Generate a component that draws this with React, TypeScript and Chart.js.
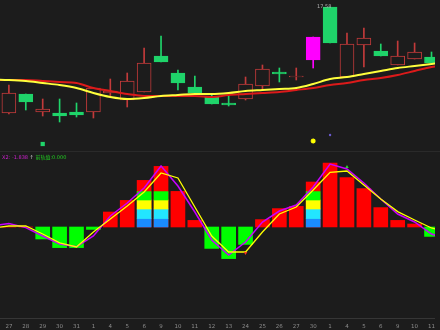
import React, { useEffect, useRef } from "react";
import { Chart, registerables } from "chart.js";
Chart.register(...registerables);

const dates = ["27","28","29","30","31","1","4","5","6","9","10","11","12","13","24","25","26","27","30","1","4","5","6","9","10","11"];
const opens  = [16.52,16.71,16.53,16.52,16.53,16.53,16.72,16.65,16.73,17.09,16.92,16.78,16.68,16.62,16.66,16.79,16.93,16.88,17.05,17.58,16.88,17.20,17.14,17.00,17.06,17.08];
const highs  = [16.80,16.71,16.66,16.66,16.62,16.77,16.86,16.92,17.17,17.29,16.95,16.89,16.70,16.70,16.88,17.00,16.97,16.97,17.28,17.58,17.32,17.37,17.21,17.24,17.22,17.13];
const lows   = [16.51,16.55,16.49,16.43,16.48,16.47,16.68,16.58,16.73,17.03,16.75,16.72,16.61,16.59,16.65,16.75,16.83,16.85,16.97,17.22,16.88,16.98,17.09,17.00,17.06,17.02];
const closes = [16.72,16.63,16.56,16.49,16.50,16.77,16.74,16.84,17.02,17.03,16.82,16.72,16.61,16.60,16.81,16.96,16.91,16.89,17.28,17.22,17.21,17.27,17.09,17.09,17.13,17.02];
const specialCandles = [18];
const maShort = [16.85,16.84,16.82,16.80,16.77,16.72,16.68,16.66,16.67,16.69,16.70,16.71,16.71,16.72,16.74,16.75,16.76,16.77,16.81,16.86,16.88,16.91,16.94,16.97,16.99,17.01];
const maLong  = [16.85,16.85,16.84,16.83,16.82,16.77,16.74,16.71,16.69,16.69,16.69,16.69,16.68,16.70,16.71,16.72,16.73,16.75,16.77,16.80,16.82,16.85,16.87,16.90,16.94,16.98];
// values just outside the visible window (previous day, next day)
const maShortEdge = [16.855, 17.03];
const maLongEdge  = [16.85, 17.00];

const histValues = [0,0,-0.60,-1.03,-1.03,-0.12,0.75,1.33,2.33,3.03,1.78,0.33,-1.07,-1.58,-0.87,0.37,0.92,1.03,2.25,3.20,2.47,1.92,0.97,0.33,0.15,-0.47];
const bandIndices = [8, 9, 18];
const bandLevels = [0, 0.42, 0.90, 1.35, 1.77];
const bandColors = ["#1a8cff", "#22e6ff", "#ffff00", "#00ff00"];
const lineMagenta = [0.18,-0.03,-0.45,-0.85,-0.99,-0.45,0.55,1.20,1.95,3.05,2.05,0.75,-0.65,-1.40,-0.75,0.25,0.80,1.10,2.00,3.15,2.90,2.20,1.40,0.65,0.25,-0.35];
const lineYellow  = [0.05,0.05,-0.35,-0.79,-1.00,-0.25,0.40,1.05,1.75,2.70,2.45,1.00,-0.45,-1.25,-1.25,-0.25,0.65,1.00,1.85,2.73,2.80,2.10,1.40,0.77,0.35,-0.05];
const lineMagentaEdge = [0.05, -0.62];
const lineYellowEdge  = [-0.05, -0.25];

const signalGreen = { x: 2, y: 16.21 };
const signalYellow = { x: 18, y: 16.24 };
const signalPurple = { x: 19, y: 16.30 };
const markRed = { x: 14, y: -1.3 };
const markGreen = { x: 20, y: 3.0 };

const highLabel = "17.58";
const indName = "X2: -1.838";
const indExtra = "前轨值:0.000";

const BG = "#1c1c1c";
const UP = "#c23a3a";
const DOWN = "#1fd46a";
const SPECIAL = "#ff00ff";

export default function App() {
  const ref = useRef<HTMLCanvasElement | null>(null);
  useEffect(() => {
    if (!ref.current) return;
    const idx = dates.map((_, i) => i);
    const n = dates.length;
    const withEdges = (vals: number[], edge: number[]) => [
      { x: -1, y: edge[0] },
      ...idx.map((i) => ({ x: i, y: vals[i] })),
      { x: n, y: edge[1] },
    ];
    const candleColor = (i: number) =>
      specialCandles.includes(i) ? SPECIAL : closes[i] >= opens[i] ? UP : DOWN;
    const bodyFill = (i: number) =>
      specialCandles.includes(i) ? SPECIAL : closes[i] >= opens[i] ? BG : DOWN;

    const datasets: any[] = [
      {
        type: "bar", order: 20, yAxisID: "yP", grouped: false, barThickness: 1,
        data: idx.map((i) => ({ x: i, y: [lows[i], highs[i]] })),
        backgroundColor: idx.map(candleColor), borderWidth: 0,
      },
      {
        type: "bar", order: 19, yAxisID: "yP", grouped: false, barThickness: 14,
        data: idx.map((i) => ({ x: i, y: [opens[i], closes[i]] })),
        backgroundColor: idx.map(bodyFill), borderColor: idx.map(candleColor),
        borderWidth: 1, borderSkipped: false,
      },
      {
        type: "line", order: 18, yAxisID: "yP",
        data: withEdges(maLong, maLongEdge),
        borderColor: "#dc1a1a", borderWidth: 2, pointRadius: 0, pointHoverRadius: 0, cubicInterpolationMode: "monotone",
      },
      {
        type: "line", order: 17, yAxisID: "yP",
        data: withEdges(maShort, maShortEdge),
        borderColor: "#ffff3c", borderWidth: 2, pointRadius: 0, pointHoverRadius: 0, cubicInterpolationMode: "monotone",
      },
      {
        type: "bar", order: 16, yAxisID: "yI", grouped: false, barThickness: 14,
        data: idx.map((i) => ({ x: i, y: [0, histValues[i]] })),
        backgroundColor: idx.map((i) => (histValues[i] >= 0 ? "#ff0000" : "#00ff00")),
        borderWidth: 0,
      },
    ];
    bandColors.forEach((c, k) => {
      datasets.push({
        type: "bar", order: 15 - k * 0.1, yAxisID: "yI", grouped: false, barThickness: 14,
        data: bandIndices.map((i) => ({ x: i, y: [bandLevels[k], bandLevels[k + 1]] })),
        backgroundColor: c, borderWidth: 0,
      });
    });
    datasets.push(
      {
        type: "line", order: 12, yAxisID: "yI",
        data: withEdges(lineMagenta, lineMagentaEdge),
        borderColor: "#c800ff", borderWidth: 1.5, pointRadius: 0, pointHoverRadius: 0,
      },
      {
        type: "line", order: 11, yAxisID: "yI",
        data: withEdges(lineYellow, lineYellowEdge),
        borderColor: "#ffff00", borderWidth: 1.3, pointRadius: 0, pointHoverRadius: 0,
      },
      {
        type: "line", order: 5, yAxisID: "yP", showLine: false,
        data: [signalGreen], pointStyle: "rect", pointRadius: 3, pointHoverRadius: 0,
        backgroundColor: DOWN, borderColor: DOWN, borderWidth: 0,
      },
      {
        type: "line", order: 5, yAxisID: "yP", showLine: false,
        data: [signalYellow], pointStyle: "star", pointRadius: 2.5, pointHoverRadius: 0,
        backgroundColor: "#ffff00", borderColor: "#ffff00", borderWidth: 1.5,
      },
      {
        type: "line", order: 5, yAxisID: "yP", showLine: false,
        data: [signalPurple], pointRadius: 1.2, pointHoverRadius: 0,
        backgroundColor: "#6a5acd", borderColor: "#6a5acd", borderWidth: 0,
      },
      {
        type: "line", order: 5, yAxisID: "yI", showLine: false,
        data: [markRed], pointStyle: "triangle", rotation: 180, pointRadius: 2, pointHoverRadius: 0,
        backgroundColor: "#ff3b1f", borderColor: "#ff3b1f", borderWidth: 0,
      },
      {
        type: "line", order: 5, yAxisID: "yI", showLine: false,
        data: [markGreen], pointStyle: "triangle", pointRadius: 2, pointHoverRadius: 0,
        backgroundColor: "#2fd42f", borderColor: "#2fd42f", borderWidth: 0,
      }
    );

    const chart = new Chart(ref.current, {
      type: "bar",
      data: { datasets },
      options: {
        animation: false,
        responsive: false,
        devicePixelRatio: 1,
        layout: { padding: 0, autoPadding: false },
        plugins: { legend: { display: false }, tooltip: { enabled: false } },
        scales: {
          x: {
            type: "linear", min: -0.526, max: 25.2, offset: false,
            grid: { display: false, drawTicks: false },
            border: { display: true, color: "#363636" },
            afterBuildTicks: (s: any) => { s.ticks = idx.map((i) => ({ value: i })); },
            afterFit: (s: any) => { s.height = 12; },
            ticks: {
              autoSkip: false, maxRotation: 0, padding: 5, color: "#8c8c8c",
              font: { size: 5.5, family: "DejaVu Sans" },
              callback: (v: any) => dates[Math.round(Number(v))] ?? "",
            },
          },
          yP: { type: "linear", display: false, min: 14.47, max: 17.65 },
          yI: { type: "linear", display: false, min: -4.55, max: 11.35 },
        },
      } as any,
    });
    return () => chart.destroy();
  }, []);

  return (
    <div style={{ position: "fixed", left: 0, top: 0, width: 440, height: 330, background: BG, overflow: "hidden" }}>
      <canvas ref={ref} width={440} height={330} style={{ position: "absolute", left: 0, top: 0, width: 440, height: 330 }} />
      <div style={{ position: "absolute", left: 0, top: 151, width: 440, height: 1, background: "#2a2a2a" }} />
      <span style={{ position: "absolute", left: 317, top: 3, font: "5px 'DejaVu Sans'", color: "#b0b0b0", whiteSpace: "nowrap" }}>{highLabel}</span>
      <span style={{ position: "absolute", left: 2, top: 153, font: "5px 'DejaVu Sans', 'Noto Sans CJK SC'", color: "#d020d0", whiteSpace: "nowrap" }}>
        {indName} <span style={{ color: "#d0d0d0" }}>↑</span> <span style={{ color: "#20d020" }}>{indExtra}</span>
      </span>
    </div>
  );
}
